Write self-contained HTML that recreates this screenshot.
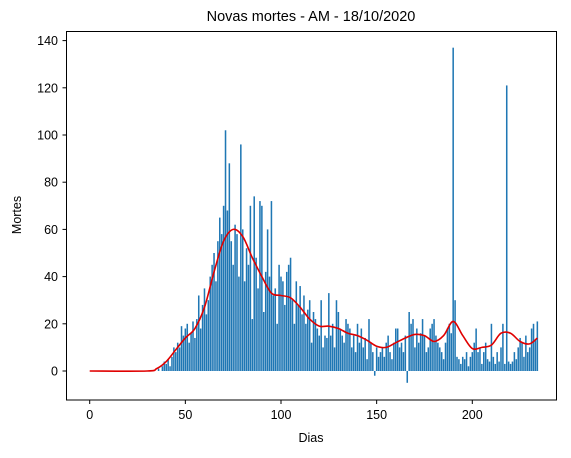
<!DOCTYPE html>
<html><head><meta charset="utf-8"><style>
body{margin:0;background:#fff;}
svg text{font-family:"Liberation Sans","DejaVu Sans",sans-serif;fill:#000;}
</style></head><body>
<svg id="chart" width="571" height="453" xmlns="http://www.w3.org/2000/svg">
<text x="311" y="21" font-size="14.5" text-anchor="middle">Novas mortes - AM - 18/10/2020</text>
<text transform="translate(21,215) rotate(-90)" font-size="12.5" text-anchor="middle">Mortes</text>
<text x="311" y="442" font-size="12.5" text-anchor="middle">Dias</text>
<g id="bars"></g>
<g id="axes"></g>
<path id="trend" fill="none" stroke="#e00000" stroke-width="1.6"/>
<rect x="66.5" y="31.5" width="490" height="368.5" fill="none" stroke="#000" stroke-width="1"/>
</svg>
<script>
const deaths = [
0,0,0,0,0,0,0,0,0,0, 0,0,0,0,0,0,0,0,0,0, 0,0,0,0,0,0,0,0,0,0, 0,0,0,0,0,0,
1,0,2,4,3,5,2,6,10,
8,12,10,19,15,18,20,12,16,21,
14,22,32,18,28,35,24,30,40,45,
50,38,55,65,58,70,
102,68,88,55,45,62,58,40,96,60,
38,52,45,70,22,74,48,35,72,70,
25,42,60,40,72,32,35,20,45,40,
38,28,42,45,48,30,20,38,28,36,
24,32,20,26,30,12,25,22,18,15,
30,10,15,14,33,15,20,10,30,25,
18,15,12,22,20,18,10,15,8,20,
12,18,10,14,5,22,12,8,-2,10,
6,8,10,6,12,15,8,5,12,18,
18,10,12,8,15,-5,25,20,22,10,
18,12,16,22,15,8,10,18,20,22,
15,12,10,8,5,12,18,20,16,137,
30,6,5,3,6,5,8,2,6,8,
12,18,8,10,3,8,12,5,4,20,
6,3,8,4,10,20,3,121,
4,3,4,8,5,10,14,
12,6,15,8,10,18,20,13,21
];
const trendDays = [0,30,35,40,45,50,55,60,65,70,75,80,85,90,95,100,105,110,115,120,125,130,135,140,145,150,155,160,165,170,175,180,185,190,195,200,205,210,215,220,225,230,234];
const trendVals = [0,0,1,4,9,14,18,27,42,55,60,57,48,40,33,32,31,27,22,19,19,18,16,15,13,10.5,10,12,14,15.5,15,12.5,15,21,15,9.5,10,11,16,16,12.5,11.5,14];
const yTicks = [0,20,40,60,80,100,120,140];
const xTicks = [0,50,100,150,200];

const X = d => 89.7 + d*1.913;
const Y = v => 371 - v*2.36;
const NS = "http://www.w3.org/2000/svg";
const bars = document.getElementById('bars');
deaths.forEach((v,i)=>{
  const r = document.createElementNS(NS,'rect');
  
  
  const bw = 0.8*1.913;
  r.setAttribute('x', X(i)-bw/2);
  r.setAttribute('width', bw);
  r.setAttribute('y', Math.min(Y(v),Y(0)));
  r.setAttribute('height', Math.abs(Y(v)-Y(0)));
  r.setAttribute('fill', '#1f77b4');
  bars.appendChild(r);
});
const axes = document.getElementById('axes');
yTicks.forEach(t=>{
  const l = document.createElementNS(NS,'line');
  
  
  l.setAttribute('x1',62.5);l.setAttribute('x2',66.5);
  l.setAttribute('y1',Y(t));l.setAttribute('y2',Y(t));
  l.setAttribute('stroke','#000');
  axes.appendChild(l);
  const tx = document.createElementNS(NS,'text');
  
  
  tx.setAttribute('x',58);tx.setAttribute('y',Y(t)+4.5);
  tx.setAttribute('font-size','12.5');tx.setAttribute('text-anchor','end');
  tx.textContent = t;
  axes.appendChild(tx);
});
xTicks.forEach(t=>{
  const l = document.createElementNS(NS,'line');
  
  
  l.setAttribute('x1',X(t));l.setAttribute('x2',X(t));
  l.setAttribute('y1',400);l.setAttribute('y2',404);
  l.setAttribute('stroke','#000');
  axes.appendChild(l);
  const tx = document.createElementNS(NS,'text');
  
  
  tx.setAttribute('x',X(t));tx.setAttribute('y',419);
  tx.setAttribute('font-size','12.5');tx.setAttribute('text-anchor','middle');
  tx.textContent = t;
  axes.appendChild(tx);
});
const pts = trendDays.map((d,i)=>[X(d),Y(trendVals[i])]);
let d = `M${pts[0][0]},${pts[0][1]}`;
for(let i=0;i<pts.length-1;i++){
  const p0=pts[Math.max(0,i-1)],p1=pts[i],p2=pts[i+1],p3=pts[Math.min(pts.length-1,i+2)];
  const c1=[p1[0]+(p2[0]-p0[0])/6,p1[1]+(p2[1]-p0[1])/6];
  const c2=[p2[0]-(p3[0]-p1[0])/6,p2[1]-(p3[1]-p1[1])/6];
  d+=` C${c1[0]},${c1[1]} ${c2[0]},${c2[1]} ${p2[0]},${p2[1]}`;
}
document.getElementById('trend').setAttribute('d',d);
</script>
</body></html>
